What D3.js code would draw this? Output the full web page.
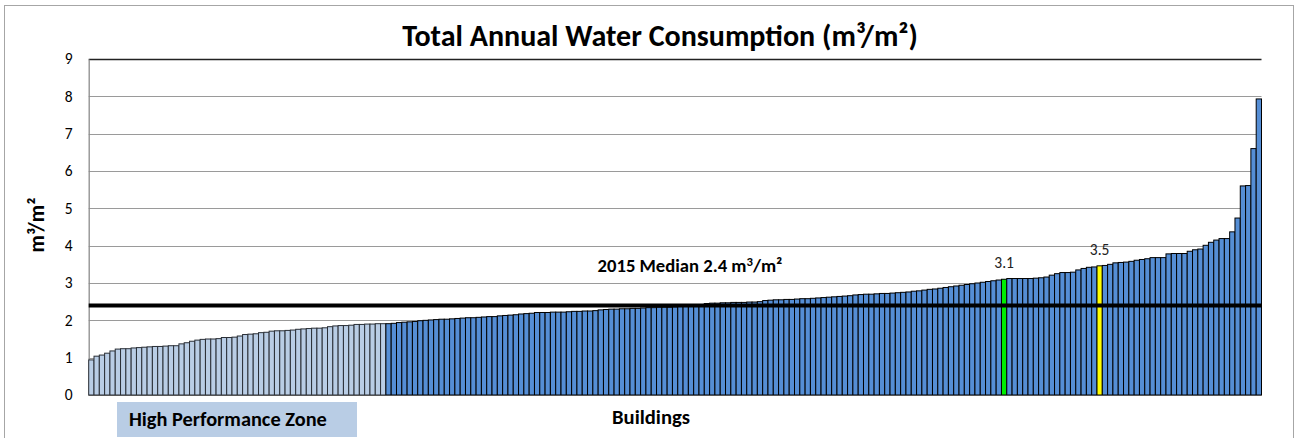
<!DOCTYPE html>
<html>
<head>
<meta charset="utf-8">
<script src="https://cdn.jsdelivr.net/npm/d3@7"></script>
<style>
  html, body { margin: 0; padding: 0; background: #fff; }
  svg { display: block; font-family: Carlito, Lato, "Open Sans", sans-serif; }
</style>
</head>
<body>
<svg id="chart" width="1299" height="438"></svg>
<script>
// ---- Data ----
const values = [
  0.94,1.04,1.07,1.12,1.18,1.23,1.24,1.24,1.26,1.27,1.28,1.29,1.30,1.30,1.31,1.32,1.32,1.37,1.40,1.44,1.47,1.49,1.50,1.50,1.51,1.54,1.54,1.55,1.58,1.62,1.63,1.64,1.67,1.68,1.71,1.72,1.72,
  1.73,1.74,1.76,1.77,1.78,1.79,1.79,1.80,1.83,1.85,1.86,1.86,1.87,1.89,1.89,1.90,1.90,1.91,1.91,1.91,1.92,1.94,1.95,1.96,1.97,1.99,2.00,2.01,2.02,2.03,2.03,2.04,2.05,2.06,2.07,2.07,2.08,
  2.09,2.10,2.10,2.12,2.13,2.14,2.15,2.17,2.18,2.19,2.21,2.21,2.21,2.22,2.22,2.22,2.23,2.24,2.24,2.25,2.25,2.26,2.28,2.29,2.30,2.30,2.31,2.31,2.32,2.32,2.33,2.34,2.34,2.35,2.35,2.35,2.36,
  2.37,2.38,2.39,2.40,2.42,2.45,2.46,2.46,2.47,2.47,2.48,2.48,2.48,2.49,2.49,2.50,2.53,2.54,2.55,2.55,2.56,2.56,2.57,2.58,2.58,2.59,2.60,2.61,2.62,2.63,2.64,2.65,2.66,2.68,2.69,2.70,2.70,
  2.71,2.72,2.72,2.73,2.74,2.75,2.76,2.78,2.79,2.81,2.83,2.84,2.86,2.88,2.90,2.92,2.94,2.96,2.98,3.00,3.02,3.04,3.06,3.08,3.10,3.12,3.12,3.12,3.12,3.12,3.13,3.14,3.16,3.21,3.25,
  3.28,3.28,3.29,3.35,3.39,3.42,3.43,3.46,3.47,3.50,3.54,3.55,3.56,3.58,3.61,3.63,3.65,3.68,3.68,3.68,3.78,3.79,3.79,3.79,3.85,3.89,3.91,4.01,4.09,4.15,4.19,4.19,4.37,4.74,5.60,5.61,6.60,7.93
];
const highPerformanceCount = 56;            // first N buildings in the High Performance Zone
const markerIndexes = [172, 190];           // highlighted buildings
const markerLabels = ["3.1", "3.5"];
const markerColors = ["#00ee00", "#ffff00"];
const medianValue = 2.4;
const yTicks = [0,1,2,3,4,5,6,7,8,9];
const titleText = "Total Annual Water Consumption (m³/m²)";
const xTitle = "Buildings";
const zoneLabel = "High Performance Zone";

// ---- Layout ----
const svg = d3.select("#chart");
const plot = { left: 88.7, right: 1261.5, top: 59, bottom: 395 };

const x = d3.scaleBand()
  .domain(d3.range(values.length))
  .range([plot.left, plot.right])
  .padding(0);
const y = d3.scaleLinear().domain([0, 9]).range([plot.bottom, plot.top]);

// scale a text's font size so that it spans the wanted width
function fitWidth(sel, target) {
  const node = sel.node();
  const fs = parseFloat(sel.attr("font-size"));
  const w = node.getComputedTextLength();
  if (w > 0) sel.attr("font-size", (fs * target / w).toFixed(2));
  return sel;
}

// outer chart border
svg.append("rect")
  .attr("x", 4.5).attr("y", 5.5).attr("width", 1289).attr("height", 440)
  .attr("fill", "none").attr("stroke", "#a6a6a6").attr("stroke-width", 1);

// gridlines
svg.append("g").selectAll("line")
  .data(yTicks.filter(t => t > 0))
  .join("line")
  .attr("x1", plot.left).attr("x2", plot.right)
  .attr("y1", d => Math.round(y(d)) + 0.5).attr("y2", d => Math.round(y(d)) + 0.5)
  .attr("stroke", d => d === 9 ? "#222" : "#9a9a9a")
  .attr("stroke-width", d => d === 9 ? 1.3 : 1);

// y axis
const yAxis = d3.axisLeft(y).tickValues(yTicks).tickSize(0).tickPadding(16);
const gy = svg.append("g").attr("transform", `translate(${plot.left},0)`).call(yAxis);
gy.select(".domain").attr("stroke", "#8c8c8c").attr("stroke-width", 1.3);
gy.selectAll("text").attr("font-size", 15.5).attr("fill", "#000")
  .attr("font-family", "Carlito, Lato, 'Open Sans', sans-serif");

// bars
const colorFor = i => {
  const m = markerIndexes.indexOf(i);
  if (m >= 0) return markerColors[m];
  return i < highPerformanceCount ? "#b9cde5" : "#558ed5";
};
svg.append("g").selectAll("rect")
  .data(values)
  .join("rect")
  .attr("x", (d, i) => x(i))
  .attr("width", x.bandwidth())
  .attr("y", d => y(d))
  .attr("height", d => y(0) - y(d))
  .attr("fill", (d, i) => colorFor(i))
  .attr("stroke", (d, i) => i < highPerformanceCount ? "#2a2f36" : "#000")
  .attr("stroke-width", 1);

// x baseline
svg.append("line")
  .attr("x1", plot.left).attr("x2", plot.right)
  .attr("y1", y(0) + 0.5).attr("y2", y(0) + 0.5)
  .attr("stroke", "#555").attr("stroke-width", 1);

// median line
svg.append("line")
  .attr("x1", plot.left).attr("x2", plot.right)
  .attr("y1", y(medianValue)).attr("y2", y(medianValue))
  .attr("stroke", "#000").attr("stroke-width", 4);

// median label
const ml = svg.append("text")
  .attr("x", 690).attr("y", y(medianValue) - 33)
  .attr("text-anchor", "middle")
  .attr("font-size", 13).attr("font-weight", "bold").attr("fill", "#000");
ml.append("tspan").text(`2015 Median ${medianValue} m`);
ml.append("tspan").attr("dy", -6).attr("font-size", "0.68em").text("3");
ml.append("tspan").attr("dy", 6).text("/m²");
fitWidth(ml, 185);

// marker labels
svg.append("g").selectAll("text")
  .data(markerIndexes)
  .join("text")
  .attr("x", i => x(i) + x.bandwidth() / 2)
  .attr("y", i => y(values[i]) - 11)
  .attr("text-anchor", "middle")
  .attr("font-size", 15.5).attr("fill", "#222")
  .text((i, k) => markerLabels[k]);

// title
const title = svg.append("text")
  .attr("x", 660).attr("y", 46)
  .attr("text-anchor", "middle")
  .attr("font-size", 22).attr("font-weight", "bold").attr("fill", "#000")
  .text(titleText);
fitWidth(title, 516);

// y axis title
const yt = svg.append("text")
  .attr("transform", "translate(44,225) rotate(-90)")
  .attr("text-anchor", "middle")
  .attr("font-size", 16).attr("font-weight", "bold").attr("fill", "#000")
  .text("m³/m²");
fitWidth(yt, 55);

// x title
const xt = svg.append("text")
  .attr("x", 651).attr("y", 424)
  .attr("text-anchor", "middle")
  .attr("font-size", 15).attr("font-weight", "bold").attr("fill", "#000")
  .text(xTitle);
fitWidth(xt, 78);

// High performance zone box
svg.append("rect")
  .attr("x", 117).attr("y", 402).attr("width", 240).attr("height", 35)
  .attr("fill", "#b9cde5");
const zt = svg.append("text")
  .attr("x", 129).attr("y", 426)
  .attr("font-size", 15).attr("font-weight", "bold").attr("fill", "#000")
  .text(zoneLabel);
fitWidth(zt, 198);
</script>
</body>
</html>
